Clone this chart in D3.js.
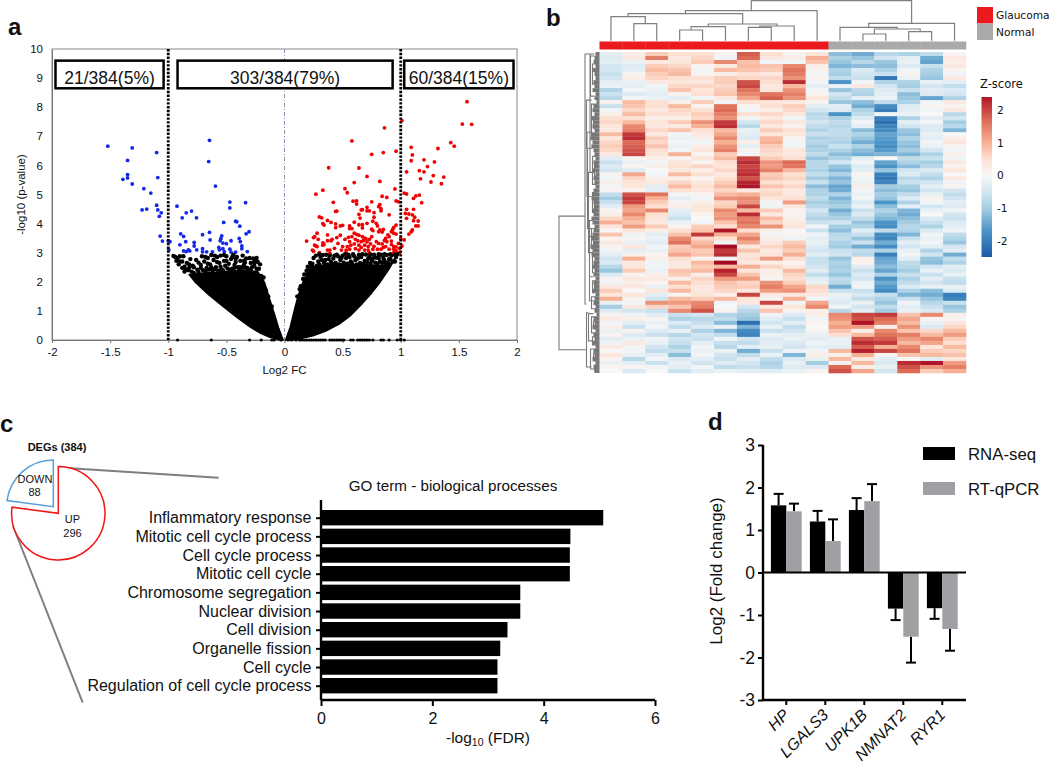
<!DOCTYPE html>
<html><head><meta charset="utf-8">
<script src="https://cdn.jsdelivr.net/npm/d3@7/dist/d3.min.js"></script>
<style>html,body{margin:0;padding:0;background:#fff;overflow:hidden}svg{display:block}text{font-family:"Liberation Sans",Arial,sans-serif;fill:#111}</style>
</head><body><svg id="c" width="1050" height="764"></svg>
<script>
// ---------- panel a: volcano data [log2FC, -log10 p]
const blueGenes=[[-1.52,6.66],[-1.31,6.6],[-1.35,6.17],[-1.35,5.68],[-1.35,5.57],[-1.39,5.52],[-1.31,5.36],[-1.21,5.2],[-1.15,5.05],[-1.1,6.44],[-1.09,5.58],[-1.225,4.47],[-1.185,4.5],[-1.1,4.63],[-1.09,4.47],[-1.06,4.37],[-1.077,4.25],[-1.07,3.57],[-1.05,3.4],[-1,3.4],[-0.985,3.38],[-0.995,3.1],[-0.925,4.6],[-0.845,4.37],[-0.8,4.43],[-0.88,4.2],[-0.757,4.2],[-0.893,3.65],[-0.868,3.56],[-0.85,3.38],[-0.9,3.27],[-0.868,3.06],[-0.827,3.1],[-0.845,3.04],[-0.815,3.06],[-0.777,3.35],[-0.777,3.23],[-0.755,3.1],[-0.705,3.62],[-0.645,3.7],[-0.64,3.44],[-0.705,3.14],[-0.705,3.03],[-0.67,3.03],[-0.62,3.03],[-0.645,6.86],[-0.652,6.13],[-0.594,5.29],[-0.47,4.74],[-0.47,4.54],[-0.335,4.72],[-0.523,4.04],[-0.42,4.08],[-0.41,4.06],[-0.385,3.91],[-0.305,3.72],[-0.33,3.65],[-0.54,3.58],[-0.547,3.49],[-0.553,3.41],[-0.53,3.33],[-0.5,3.31],[-0.46,3.41],[-0.39,3.49],[-0.38,3.38],[-0.367,3.23],[-0.367,3.14],[-0.32,3.04],[-0.565,3.18],[-0.53,3.14],[-0.56,3.1],[-0.518,3.04],[-0.47,3.12],[-0.46,3.02],[-0.42,3.02]];
const redGenes=[[1.57,8.19],[1.53,7.42],[1.61,7.41],[1.01,7.54],[.86,7.29],[.58,6.84],[1.43,6.78],[1.46,6.66],[1.32,6.58],[1.09,6.62],[.96,6.49],[.85,6.44],[.75,6.38],[1.1,6.36],[1.09,6.16],[1.2,6.19],[1.29,6.12],[1.23,5.96],[.38,5.92],[.64,5.91],[1.05,5.78],[1.16,5.82],[1.2,5.78],[1.28,5.65],[1.37,5.6],[.71,5.62],[1.17,5.54],[.82,5.45],[.6,5.41],[1.26,5.43],[1.35,5.37],[.52,5.2],[.54,5.06],[.95,5.19],[.33,5.15],[.27,5.01],[1.03,5.05],[1.05,5.02],[.84,4.94],[.88,4.9],[1.13,4.95],[1.16,4.98],[1.11,4.87],[.42,4.73],[.59,4.77],[.62,4.78],[.62,4.67],[.75,4.75],[.96,4.78],[.98,4.75],[1.18,4.72],[.81,4.58],[.82,4.65],[.71,4.56],[.83,4.51],[.66,4.47],[.67,4.48],[.71,4.44],[.73,4.44],[1.05,4.49],[1.11,4.49],[.44,4.42],[.45,4.43],[.64,4.32],[.77,4.38],[.83,4.44],[.9,4.3],[1.04,4.35],[1.07,4.33],[1.1,4.3],[.3,4.23],[.32,4.2],[.65,4.19],[.77,4.22],[1.05,4.18],[1.12,4.22],[.37,4.11],[.4,4.04],[.33,4],[.34,3.95],[.44,3.99],[.6,4.05],[.64,3.96],[.67,3.96],[.71,4.01],[.76,4.08],[.79,4.01],[1.11,4.1],[1.15,4.09],[1.13,3.92],[1.15,3.92],[.48,3.92],[.5,3.94],[.44,3.86],[.56,3.92],[.56,3.83],[.58,3.83],[.67,3.85],[.75,3.81],[.8,3.92],[.82,3.78],[.85,3.8],[.96,3.95],[.94,3.87],[.93,3.8],[.92,3.72],[1.1,3.78],[1.09,3.72],[1.07,3.64],[.28,3.67],[.26,3.55],[.25,3.52],[.37,3.61],[.19,3.4],[.29,3.46],[.45,3.52],[.48,3.6],[.55,3.53],[.6,3.67],[.62,3.63],[.64,3.6],[.67,3.55],[.7,3.48],[.73,3.46],[.76,3.76],[.81,3.72],[.84,3.71],[.89,3.61],[.87,3.49],[.9,3.55],[.94,3.67],[.96,3.64],[1.03,3.44],[1,3.49],[.41,3.46],[.52,3.46],[.33,3.34],[.37,3.41],[.4,3.41],[.46,3.32],[.56,3.38],[.61,3.46],[.63,3.41],[.66,3.38],[.71,3.37],[.74,3.3],[.79,3.38],[.81,3.32],[.84,3.3],[.88,3.38],[.26,3.26],[.27,3.23],[.34,3.29],[.5,3.21],[.54,3.21],[.57,3.26],[.64,3.26],[.69,3.26],[.72,3.21],[.94,3.21],[.98,3.32],[1.01,3.23],[.24,3.09],[.25,3.05],[.28,3.21],[.37,3.09],[.39,3.09],[.33,3.26],[.43,3.15],[.49,3.09],[.53,3.09],[.56,3.12],[.61,3.14],[.64,3.09],[.69,3.09],[.72,3.09],[.76,3.12],[.8,3.12],[.83,3.12],[.87,3.21],[.9,3.12],[.94,3.12],[.96,3.07],[.99,3.15],[.3,3],[.39,2.98],[.53,3],[.73,3],[.94,3],[.99,3],[.58,3.55],[.69,3.5],[.75,3.55],[.86,3.42],[.92,3.4],[.68,3.42],[.6,3.3],[.66,3.18],[.77,3.22],[.85,3.18],[.92,3.28],[.96,3.2]];
// upper, scattered part of the non-significant cloud
const greyGenesRight=[[.27,2.9],[.29,2.7],[.31,2.85],[.22,2.45],[.24,2.62],[.26,2.4],[.2,2.25],[.18,2.1],[.33,2.92],[.35,2.75],[.37,2.6],[.39,2.9],[.41,2.62],[.42,2.8],[.44,2.65],[.45,2.93],[.47,2.6],[.48,2.75],[.5,2.9],[.51,2.66],[.53,2.82],[.54,2.62],[.55,2.93],[.57,2.7],[.58,2.65],[.6,2.88],[.61,2.75],[.62,2.6],[.64,2.93],[.65,2.65],[.66,2.85],[.68,2.62],[.69,2.72],[.7,2.94],[.71,2.68],[.73,2.85],[.74,2.63],[.75,2.72],[.77,2.93],[.78,2.66],[.79,2.83],[.8,2.62],[.82,2.7],[.83,2.93],[.84,2.65],[.85,2.82],[.87,2.65],[.88,2.92],[.89,2.66],[.9,2.78],[.92,2.9],[.93,2.7],[.95,2.93],[.96,2.85],[.97,2.95],[.34,2.65],[.3,2.6],[.46,2.88],[.52,2.95],[.59,2.95],[.67,2.95],[.74,2.94],[.81,2.95],[.86,2.95],[.91,2.95],[.36,2.93],[.4,2.68],[.28,2.55],[.25,2.5],[.23,2.55],[.21,2.42],[.19,2.38],[.16,2.1],[.14,1.85],[.95,2.7],[.91,2.78],[.32,2.75],[.38,2.78],[.43,2.9],[.49,2.82],[.56,2.85],[.63,2.8],[.72,2.8],[.76,2.8],[.81,2.82],[.86,2.74],[.3,2.95],[.25,2.82],[.22,2.65],[.2,2.52],[.17,2.25],[.13,1.75],[.11,1.5]];
const greyGenesLeft=[[-.955,2.89],[-.94,2.85],[-.92,2.82],[-.9,2.88],[-.88,2.7],[-.87,2.88],[-.86,2.52],[-.84,2.65],[-.83,2.4],[-.81,2.78],[-.8,2.35],[-.79,2.55],[-.78,2.3],[-.76,2.75],[-.75,2.42],[-.74,2.34],[-.72,2.58],[-.71,2.88],[-.7,2.4],[-.69,2.7],[-.68,2.36],[-.67,2.48],[-.66,2.82],[-.65,2.42],[-.64,2.6],[-.63,2.92],[-.62,2.38],[-.61,2.75],[-.6,2.44],[-.59,2.5],[-.58,2.85],[-.57,2.38],[-.56,2.65],[-.55,2.9],[-.54,2.42],[-.53,2.4],[-.52,2.72],[-.51,2.55],[-.5,2.88],[-.49,2.46],[-.48,2.62],[-.47,2.42],[-.46,2.78],[-.45,2.45],[-.44,2.93],[-.43,2.48],[-.42,2.68],[-.41,2.85],[-.4,2.5],[-.39,2.45],[-.38,2.72],[-.37,2.48],[-.36,2.9],[-.35,2.58],[-.34,2.5],[-.33,2.8],[-.32,2.48],[-.31,2.42],[-.3,2.82],[-.29,2.65],[-.28,2.5],[-.27,2.8],[-.26,2.55],[-.25,2.78],[-.24,2.45],[-.23,2.68],[-.22,2.45],[-.21,2.6],[-.2,2.2],[-.19,2],[-.18,2.15],[-.45,2.85],[-.52,2.92],[-.6,2.9],[-.68,2.85],[-.35,2.72],[-.43,2.58],[-.55,2.52],[-.63,2.5],[-.72,2.48],[-.78,2.5],[-.82,2.48],[-.38,2.5],[-.29,2.4],[-.86,2.35],[-.85,2.42],[-.9,2.7],[-.91,2.6],[-.88,2.48],[-.93,2.72],[-.82,2.6],[-.74,2.66],[-.66,2.62],[-.58,2.68],[-.5,2.72],[-.42,2.8],[-.34,2.66],[-.26,2.68],[-.24,2.82],[-.16,1.7],[-.14,1.5],[-.11,1.15]];
// solid body of the cloud: outline
const cloudRight=[[.01,0],[.05,.45],[.09,1.1],[.12,1.55],[.16,2],[.22,2.4],[.3,2.55],[.5,2.62],[.7,2.58],[.85,2.56],[.92,2.65],[.97,2.92],[.9,2.45],[.815,1.95],[.75,1.62],[.67,1.26],[.57,.85],[.47,.55],[.35,.3],[.245,.15],[.15,.06],[.08,0]];
const cloudLeft=[[-.012,0],[-.05,.4],[-.08,.8],[-.125,1.37],[-.17,1.95],[-.23,2.35],[-.35,2.4],[-.5,2.35],[-.7,2.3],[-.82,2.25],[-.77,2],[-.65,1.55],[-.526,1.15],[-.4,.75],[-.3,.46],[-.2,.22],[-.13,.1],[-.04,0]];
const zeroGenes=[-.92,-.63,-.3,-.2,-.11,-.09,-.03,.03,.06,.1,.13,.15,.17,.19,.21,.23,.25,.27,.29,.31,.33,.35,.39,.41,.43,.45,.47,.49,.51,.57,.59,.63,.65,.67,.69,.71,.73,.76,.83,.85,.9,.97,1,1.03];
const fcTicks=[-2,-1.5,-1,-0.5,0,0.5,1,1.5,2];
const pTicks=[0,1,2,3,4,5,6,7,8,9,10];
const fcThresholds=[-1,1];
const boxLabels=["21/384(5%)","303/384(79%)","60/384(15%)"];
const boxSpans=[[-1.97,-1.04],[-0.92,0.93],[1.03,1.97]];

// ---------- panel b: heatmap (z-score x 10, rows top to bottom, 16 samples)
const zRows=[
[-3,2,7,5,5,1,18,5,1,4,-12,-14,-8,-9,-7,1],
[-4,3,15,3,6,-1,17,3,2,10,-9,-11,-5,-3,-14,3],
[-3,-2,3,4,7,14,8,-1,-1,8,-11,-8,-11,-2,-15,2],
[-5,-4,7,6,1,3,9,8,14,2,-13,-12,-12,-4,-6,3],
[-5,-3,9,8,-1,9,8,7,16,1,-9,-4,-9,-1,-9,1],
[-6,1,7,9,1,2,5,3,15,-1,-10,-5,-6,1,-10,-1],
[-5,2,6,5,5,7,6,6,13,1,-7,-6,-21,-2,-11,3],
[-3,-2,3,4,3,7,19,5,22,-1,-17,-1,-9,-9,-2,-3],
[-2,-3,-1,6,6,6,20,3,9,-3,-2,3,-5,-10,-5,-7],
[-9,-1,-2,8,4,7,16,4,13,-1,-11,-8,-4,-6,-3,-4],
[-6,-4,-3,1,5,8,14,16,15,1,-5,-9,-3,-12,-4,-5],
[-8,-1,-2,-3,-1,3,11,18,13,4,-7,-3,-2,-11,-15,-9],
[1,9,5,2,7,-1,5,4,3,1,-11,-12,-7,-9,-1,3],
[-6,8,5,9,1,16,1,5,7,-3,-3,-14,-18,-4,1,1],
[-1,6,3,6,5,17,-1,2,6,-5,-4,-9,-20,-3,-1,3],
[2,9,5,5,7,15,5,6,4,-8,-17,-7,-1,-2,0,-8],
[5,5,2,2,6,13,-1,3,-1,-7,-9,-4,-20,-9,-3,-5],
[6,9,4,7,13,21,-5,6,3,-5,-7,-1,-22,-3,-1,-10],
[4,14,3,3,10,22,-8,3,1,-7,-8,-3,-19,-5,-4,-8],
[3,15,6,8,5,9,-2,7,5,-9,-7,-12,-18,-11,-4,-13],
[9,21,3,-1,3,11,-3,4,4,-6,-7,-9,-15,-12,-2,0],
[4,22,7,-2,2,14,-4,9,1,-9,-8,-11,-16,-9,-3,2],
[6,17,6,-1,-1,10,2,10,-1,-8,-9,-14,-17,-11,-1,4],
[7,18,8,-2,2,13,-3,7,-1,-10,-6,-9,-18,-12,-2,1],
[6,19,5,-1,4,15,1,6,4,-9,-9,-12,-16,-10,-5,-1],
[3,20,4,10,1,7,-1,5,3,-7,-12,-14,-13,-13,-9,2],
[-3,1,2,1,4,9,20,7,5,-11,-9,-3,0,-7,-6,-1],
[-6,-2,-1,4,1,5,22,13,17,-8,-5,-1,-15,-9,-10,3],
[-4,1,2,5,6,4,20,12,16,-8,-11,-4,-17,-12,-8,1],
[-5,-4,0,3,2,6,21,15,9,-9,-13,-3,-11,-5,-4,4],
[1,11,-1,9,5,3,22,7,5,-7,-9,1,-20,-4,-7,0],
[-1,6,2,2,1,5,19,8,6,-10,-13,-1,-21,-8,-9,3],
[2,4,3,6,3,7,23,5,4,-6,-11,-2,-19,-6,-5,-1],
[-1,4,-3,9,5,9,24,8,6,-12,-15,2,-10,-10,-3,1],
[1,1,-3,5,4,6,3,5,3,-9,-14,-1,-12,-11,-5,-5],
[-7,19,16,-1,1,9,10,6,3,-9,-9,-2,-10,-7,-2,-7],
[-10,21,10,-3,-1,13,14,4,5,-7,-13,-1,-11,-4,1,-5],
[-6,20,7,1,2,6,13,-1,12,-10,-11,-4,-17,-9,-1,-3],
[-3,12,5,2,4,7,20,-1,3,-8,-9,-2,-12,-3,-5,-4],
[1,11,14,-3,4,14,9,7,1,-5,-14,-6,-9,-13,-2,-1],
[2,14,5,-4,1,12,22,3,1,-7,-11,-4,-11,-14,0,-5],
[6,10,4,-6,0,13,15,9,2,-9,-9,-7,-13,-12,-4,-6],
[10,8,3,-2,-1,8,16,6,3,-6,-5,-11,-17,-10,-6,-4],
[4,12,7,1,7,5,14,13,4,-1,-10,-9,-18,-8,-9,-3],
[0,4,2,5,8,24,5,2,0,-6,-12,-3,-7,-9,-4,-1],
[8,-1,-3,8,21,10,11,-1,1,-1,-8,-6,-18,-13,-1,-7],
[1,1,-2,14,6,5,15,2,-1,-3,-7,-11,-19,-6,-2,-9],
[3,-2,-3,16,9,-1,11,3,7,-2,-9,-6,-14,-3,-1,-11],
[1,4,-1,7,11,25,3,6,9,-4,-10,-14,-18,-5,-3,-5],
[-1,-3,-2,8,7,21,8,3,7,-5,-6,-7,-9,-2,-9,-3],
[-3,2,1,11,8,22,4,4,10,-3,-5,-8,-20,-1,-5,-14],
[-5,10,2,5,1,-1,5,12,5,-6,-11,2,-15,-3,-11,-7],
[-4,3,-1,3,9,25,3,2,1,-6,-9,1,-14,-7,-12,-9],
[-8,4,-1,3,7,9,10,6,3,-5,-10,-3,-12,-8,-5,-3],
[-11,7,-2,8,9,23,4,2,9,-3,-9,-6,-15,-10,-2,-4],
[-4,1,2,7,2,20,8,2,6,-7,-11,-4,-9,-6,-6,-2],
[1,3,3,2,6,12,12,1,5,-3,-7,-5,-17,-9,-3,-6],
[-1,2,1,9,5,8,6,13,7,-2,-8,-2,-14,-7,-5,-7],
[3,3,-2,5,3,7,7,15,11,6,-14,-1,-16,-4,-2,-2],
[7,0,4,9,3,6,3,12,13,5,-6,-6,-18,-9,-12,-4],
[4,4,-3,1,4,2,20,3,3,3,-2,-4,-6,-13,-14,-20],
[10,1,-5,9,7,9,4,1,10,-1,-3,-7,-9,-6,-11,-19],
[-2,-1,13,12,14,-1,3,20,-1,11,-4,-2,-11,-1,-8,-6],
[-10,3,6,8,15,0,-5,3,4,14,-1,-5,-7,-3,-6,-11],
[-4,-5,-6,14,19,1,-8,8,1,2,-8,-3,-10,-2,-4,-9],
[1,-1,-3,-6,-5,-9,-10,-1,-4,2,14,20,21,8,14,2],
[3,2,1,-9,-8,-7,-11,-3,-6,-1,13,19,17,11,1,1],
[-1,-3,-2,-4,-6,-12,-22,-5,-3,1,10,24,15,9,-2,3],
[2,-6,-1,-7,-4,-2,-13,-2,-7,0,12,12,2,13,-4,6],
[-2,1,-4,-2,-9,-13,-18,-6,-5,1,8,2,14,8,6,9],
[1,-4,-6,-8,-5,-7,-19,-2,-3,-2,5,9,16,15,9,12],
[-3,-2,-1,-5,-6,-1,-5,-4,-2,-3,-2,19,18,12,14,7],
[-1,3,-2,-6,-3,-6,-7,-3,-4,-1,-2,22,21,9,11,5],
[3,-1,-5,-9,-1,-8,-3,-2,-5,-3,-3,18,10,14,4,9],
[0,-1,-7,-6,-2,-2,-14,-6,-1,-1,9,23,20,16,7,6],
[4,-2,-3,-12,-1,-5,-7,-2,-13,2,2,10,1,8,9,8],
[1,-8,-1,-4,-3,-6,-3,-7,-4,-2,9,3,-3,0,-3,4],
[-2,-3,-6,-2,-5,-4,-5,-9,-2,-10,1,9,-4,22,24,12],
[1,1,-1,-3,-1,-7,-6,-8,-4,-4,17,2,-2,19,13,15],
[0,-4,0,-6,-3,-2,-3,-3,-2,1,19,11,-5,17,7,10]];
const sampleGroups=["Glaucoma","Glaucoma","Glaucoma","Glaucoma","Glaucoma","Glaucoma","Glaucoma","Glaucoma","Glaucoma","Glaucoma","Normal","Normal","Normal","Normal","Normal","Normal"];
const groupNames=["Glaucoma","Normal"];
const zTicks=[2,1,0,-1,-2];
// sample dendrogram: linkage [left node, right node, height]; nodes 0-15 are leaves
const sampleLinks=[[1,2,17],[0,16,24],[3,4,10.7],[18,5,14],[6,7,13.3],[20,8,14.7],[19,21,16.7],[17,22,27],[23,9,30],[11,12,6.7],[13,14,9],[25,26,11.7],[10,27,13.3],[28,15,17.3],[24,29,40]];
// gene dendrogram brackets: [row A, row B, stem height, child height at A, child height at B]
const geneBrackets=[[40.9,74.2,40.5,14.5,13],[0.5,62.8,14.5,9.5,13],[0.5,30,9.5,5,5],[12,24,13,8,8],[20,36,12.5,8,8],[24,44,12,7,7],[30,50,11,6,6],[42,56,10,6,6],[46,62,10,6,6],[1,11,9,5,5],[3,8,7,3,3],[13,21,8,3,3],[16,19,6,3,3],[26,33,7,3,3],[28,31,5,2,2],[35,40,7,3,3],[37,39,5,2,2],[44,49,8,3,3],[46,48,6,2,2],[51,55,7,3,3],[53,54,5,2,2],[57,60,7,3,3],[58,59,5,2,2],[61,64,8,3,3],[62,63,5,2,2],[65,78.5,13,11,8],[65.2,72,11,6,6],[66,70,8,3,3],[67,69,6,2,2],[71,73,7,3,3],[74,79,9,4,4],[75,77,6,2,2],[78,79.5,5,2,2]];
const geneLeafDepth=[4,5,6,4,7,5,4,6,5,7,4,5,3,6,7,5,8,6,7,5,8,9,7,8,6,5,4,6,5,7,4,6,5,4,6,7,8,6,5,7,6,8,7,5,6,7,8,6,9,7,8,5,6,7,5,6,4,6,5,7,4,5,6,4,5,3,6,5,7,4,6,5,7,4,6,5,7,4,6,5];

// ---------- panel c
const degNames=["UP","DOWN"];
const degCounts=[296,88];
const goTerms=["Inflammatory response","Mitotic cell cycle process","Cell cycle process","Mitotic cell cycle","Chromosome segregation","Nuclear division","Cell division","Organelle fission","Cell cycle","Regulation of cell cycle process"];
const goFdr=[5.07,4.48,4.47,4.47,3.58,3.58,3.35,3.22,3.17,3.17];
const fdrTicks=[0,2,4,6];

// ---------- panel d
const qGenes=["HP","LGALS3","UPK1B","NMNAT2","RYR1"];
const rnaSeq=[1.58,1.2,1.47,-0.85,-0.84];
const rtqPCR=[1.44,0.74,1.68,-1.51,-1.33];
const rnaSeqErr=[0.27,0.25,0.28,0.27,0.25];
const rtqPCRErr=[0.18,0.51,0.4,0.61,0.51];
const foldTicks=[-3,-2,-1,0,1,2,3];

const svg=d3.select("#c");
const F='"Liberation Sans",Arial,sans-serif', DJ='"DejaVu Sans",sans-serif';
function label(g,x,y,t,o={}){return g.append("text").attr("x",x).attr("y",y).text(t)
  .attr("text-anchor",o.anchor||"middle").attr("font-size",o.size||11).attr("font-weight",o.weight||null)
  .attr("font-style",o.style||null).style("font-family",o.family||F).attr("transform",o.rot!=null?`rotate(${o.rot},${x},${y})`:null);}
[["a",8,35],["b",546,26],["c",0,432],["d",708,430]].forEach(d=>label(svg,d[1],d[2],d[0],{anchor:"start",size:24,weight:"bold"}));

// ===== a =====
(function(){
 const x=d3.scaleLinear().domain([-2,2]).range([52,517]);
 const y=d3.scaleLinear().domain([0,10]).range([340,49]);
 const g=svg.append("g");
 g.append("rect").attr("x",x(-2)).attr("y",y(10)).attr("width",x(2)-x(-2)).attr("height",y(0)-y(10)).attr("fill","none").attr("stroke","#8a8a8a");
 g.append("line").attr("x1",x(0)).attr("x2",x(0)).attr("y1",y(10)).attr("y2",y(0)).attr("stroke","#8d94ad").attr("stroke-width",1).attr("stroke-dasharray","4 2 1 2");
 const ax=g.append("g").attr("transform",`translate(0,${y(0)})`).call(d3.axisBottom(x).tickValues(fcTicks).tickSize(3).tickPadding(5).tickFormat(d=>String(d)));
 ax.selectAll("text").attr("font-size",11.5).attr("fill","#222");ax.selectAll("line,path").attr("stroke","#777");
 const ay=g.append("g").attr("transform",`translate(${x(-2)},0)`).call(d3.axisLeft(y).tickValues(pTicks).tickSize(0).tickPadding(9).tickFormat(d=>String(d)));
 ay.selectAll("text").attr("font-size",11.5).attr("fill","#222");ay.selectAll("path").attr("stroke","#777");
 const line=d3.line().x(d=>x(d[0])).y(d=>y(d[1]));
 [cloudLeft,cloudRight].forEach(c=>g.append("path").attr("d",line(c)+"Z").attr("fill","#000").attr("stroke","#000").attr("stroke-width",1.6).attr("stroke-linejoin","round"));
 const dots=(data,col,r)=>g.append("g").selectAll("circle").data(data).join("circle").attr("cx",d=>x(d[0])).attr("cy",d=>y(d[1])).attr("r",r).attr("fill",col);
 dots(zeroGenes.map(v=>[v,0]),"#000",1.6);
 dots(redGenes,"#f00000",1.9);dots(blueGenes,"#1428e6",1.9);
 dots(greyGenesRight,"#000",2.2);dots(greyGenesLeft,"#000",2.2);
 fcThresholds.forEach(t=>g.append("line").attr("x1",x(t)).attr("x2",x(t)).attr("y1",y(10)).attr("y2",y(0)).attr("stroke","#000").attr("stroke-width",2.8).attr("stroke-dasharray","2.4 1.4"));
 boxLabels.forEach((t,i)=>{const a=x(boxSpans[i][0]),b=x(boxSpans[i][1]);
  g.append("rect").attr("x",a).attr("y",y(9.6)).attr("width",b-a).attr("height",y(8.65)-y(9.6)).attr("fill","#fff").attr("stroke","#000").attr("stroke-width",2.5);
  label(g,(a+b)/2,y(8.8),t,{size:17.5});});
 label(g,x(0),374,"Log2 FC",{size:11.5});
 label(g,25,y(5),"-log10 (p-value)",{size:11.5,rot:-90});
})();

// ===== b =====
(function(){
 const nC=zRows[0].length,nR=zRows.length;
 const x=d3.scaleBand().domain(d3.range(nC)).range([599.5,966]);
 const y=d3.scaleBand().domain(d3.range(nR)).range([52,373]);
 const color=d3.scaleLinear().domain([-2.5,-1.7,-1,-.4,0,.5,1,1.7,2.4]).range(["#1b5ba6","#4a93c6","#a6cee3","#dbeaf3","#f7f7f7","#fde0d2","#f7b094","#dc6a54","#ae1529"]);
 const g=svg.append("g");
 zRows.forEach((row,r)=>g.append("g").selectAll("rect").data(row).join("rect")
   .attr("x",(d,c)=>x(c)).attr("y",y(r)).attr("width",x.bandwidth()+.3).attr("height",y.bandwidth()+.3).attr("fill",d=>color(d/10)));
 const groupCol=d3.scaleOrdinal(groupNames,["#ea1a1e","#a9a9a9"]);
 g.append("g").selectAll("rect").data(sampleGroups).join("rect").attr("x",(d,i)=>x(i)).attr("y",41.5).attr("width",x.bandwidth()+.3).attr("height",8).attr("fill",d=>groupCol(d));
 // sample dendrogram
 const hY=d3.scaleLinear().domain([0,40]).range([40.7,0.7]);
 const nodes=d3.range(nC).map(i=>({x:x(i)+x.bandwidth()/2,h:0}));
 let p="";
 sampleLinks.forEach(([a,b,h])=>{const A=nodes[a],B=nodes[b];
   p+=`M${A.x},${hY(A.h)}V${hY(h)}H${B.x}V${hY(B.h)}`;nodes.push({x:(A.x+B.x)/2,h});});
 g.append("path").attr("d",p).attr("fill","none").attr("stroke","#7f7f7f").attr("stroke-width",1.2);
 // gene dendrogram
 const hX=d3.scaleLinear().domain([0,40.5]).range([599.5,559]);
 const rowY=d3.scaleLinear().domain([0,nR]).range([52,373]);
 let q="";
 geneBrackets.forEach(([a,b,h,ha,hb])=>{q+=`M${hX(ha)},${rowY(a)}H${hX(h)}V${rowY(b)}H${hX(hb)}`;});
 g.append("path").attr("d",q).attr("fill","none").attr("stroke","#7a7a7a").attr("stroke-width",1.1);
 g.append("g").selectAll("line").data(geneLeafDepth).join("line").attr("x1",hX(0)).attr("x2",d=>hX(d))
   .attr("y1",(d,i)=>rowY(i+.5)).attr("y2",(d,i)=>rowY(i+.5)).attr("stroke","#777").attr("stroke-width",4);
 // legends
 groupNames.forEach((n,i)=>{g.append("rect").attr("x",977).attr("y",7+i*16.5).attr("width",16).attr("height",16.5).attr("fill",groupCol(n));
   label(g,996,15+i*16.7+4,n,{anchor:"start",size:10.6,family:DJ});});
 label(g,980,88,"Z-score",{anchor:"start",size:11.5,family:DJ});
 const zy=d3.scaleLinear().domain([2.4,-2.5]).range([97,257]);
 const gr=svg.append("defs").append("linearGradient").attr("id","zg").attr("x1",0).attr("x2",0).attr("y1",1).attr("y2",0);
 color.domain().forEach(v=>gr.append("stop").attr("offset",(v+2.5)/4.9).attr("stop-color",color(v)));
 g.append("rect").attr("x",981.5).attr("y",zy(2.4)).attr("width",10.5).attr("height",zy(-2.5)-zy(2.4)).attr("fill","url(#zg)");
 zTicks.forEach(t=>label(g,997,zy(t)+4,String(t),{anchor:"start",size:10.6,family:DJ}));
})();

// ===== c =====
(function(){
 const g=svg.append("g");
 const pie=d3.pie().sort(null).value(d=>d)(degCounts);
 const arc=d3.arc().innerRadius(0).outerRadius(46.7);
 const cl=[[58.3,513.3,"#f01414"],[53.3,506.7,"#5aa0d6"]];
 g.append("line").attr("x1",58.3).attr("y1",467.5).attr("x2",218.5).attr("y2",477.7).attr("stroke","#7f7f7f").attr("stroke-width",2);
 g.append("line").attr("x1",13).attr("y1",526).attr("x2",82.7).attr("y2",702.7).attr("stroke","#7f7f7f").attr("stroke-width",2);
 pie.forEach((s,i)=>g.append("path").attr("d",arc(s)).attr("transform",`translate(${cl[i][0]},${cl[i][1]})`).attr("fill","#fff").attr("stroke",cl[i][2]).attr("stroke-width",1.5).attr("stroke-linejoin","miter"));
 label(g,57,451,"DEGs (384)",{size:11,weight:"bold"});
 label(g,35,483,degNames[1],{size:11});label(g,34.5,496,String(degCounts[1]),{size:11});
 label(g,72.5,523,degNames[0],{size:11});label(g,72.5,537,String(degCounts[0]),{size:11});
 label(g,453,490.5,"GO term - biological processes",{size:15.2});
 const x=d3.scaleLinear().domain([0,6]).range([321,655]);
 const y=d3.scalePoint().domain(goTerms).range([517.7,685.7]);
 g.append("g").selectAll("rect").data(goTerms).join("rect").attr("x",x(0)).attr("y",d=>y(d)-7.7).attr("height",15.4)
   .attr("width",(d,i)=>x(goFdr[i])-x(0)).attr("fill","#000");
 const ax=g.append("g").attr("transform","translate(0,700)").call(d3.axisBottom(x).tickValues(fdrTicks).tickSize(6).tickPadding(7).tickFormat(d=>String(d)));
 ax.selectAll("text").attr("font-size",16).attr("fill","#111");ax.selectAll("line").attr("stroke","#000").attr("stroke-width",2);ax.select("path").attr("stroke","#000").attr("stroke-width",2.4).attr("d","M321,0H655");
 const ay=g.append("g").attr("transform","translate(321,0)").call(d3.axisLeft(y).tickSize(5).tickPadding(4.5));
 ay.selectAll("text").attr("font-size",16).attr("fill","#111");ay.selectAll("line").attr("stroke","#000").attr("stroke-width",2);ay.select("path").attr("stroke","#000").attr("stroke-width",2.4).attr("d","M0,500V700");
 const t=label(g,488,743,"-log",{size:15.5});
 t.append("tspan").text("10").attr("font-size",10.5).attr("dy",3);
 t.append("tspan").text(" (FDR)").attr("dy",-3);
})();

// ===== d =====
(function(){
 const g=svg.append("g");
 const y=d3.scaleLinear().domain([-3,3]).range([700,445]);
 const x=d3.scaleBand().domain(qGenes).range([766.8,961.8]);
 const bw=15.4;
 const grey="#a0a0a4";
 [[rnaSeq,rnaSeqErr,"#000",-bw],[rtqPCR,rtqPCRErr,grey,0]].forEach(([vals,errs,col,off])=>{
  qGenes.forEach((n,i)=>{const cx=x(n)+x.bandwidth()/2+off,v=vals[i],e=v+Math.sign(v)*errs[i],ex=cx+bw/2;
   g.append("line").attr("x1",ex).attr("x2",ex).attr("y1",y(v)).attr("y2",y(e)).attr("stroke","#000").attr("stroke-width",2);
   g.append("line").attr("x1",ex-5).attr("x2",ex+5).attr("y1",y(e)).attr("y2",y(e)).attr("stroke","#000").attr("stroke-width",2);
   g.append("rect").attr("x",cx).attr("width",bw).attr("y",y(Math.max(v,0))).attr("height",Math.abs(y(v)-y(0))).attr("fill",col);
  });});
 const ay=g.append("g").attr("transform","translate(763,0)").call(d3.axisLeft(y).tickValues(foldTicks).tickSize(5).tickPadding(3).tickFormat(d=>String(d)));
 ay.selectAll("text").attr("font-size",17.5).attr("fill","#111");ay.selectAll("line").attr("stroke","#000").attr("stroke-width",2);ay.select("path").attr("stroke","#000").attr("stroke-width",2.4).attr("d",`M0,${y(3)}V${y(-3)}`);
 g.append("line").attr("x1",763).attr("x2",966).attr("y1",y(0)).attr("y2",y(0)).attr("stroke","#000").attr("stroke-width",2.2);
 const ax=g.append("g").attr("transform",`translate(0,${y(-3)})`).call(d3.axisBottom(x).tickSize(5).tickFormat(""));
 ax.selectAll("line").attr("stroke","#000").attr("stroke-width",2);ax.select("path").attr("stroke","#000").attr("stroke-width",2.4).attr("d","M763,0H966");
 qGenes.forEach(n=>{const cx=x(n)+x.bandwidth()/2;label(g,cx+4,716,n,{anchor:"end",size:16,style:"italic",rot:-45});});
 label(g,722,571,"Log2 (Fold change)",{size:17,rot:-90});
 [["RNA-seq","#000",447],["RT-qPCR",grey,482]].forEach(([n,c,yy])=>{
  g.append("rect").attr("x",923).attr("y",yy).attr("width",32).attr("height",13).attr("fill",c);
  label(g,968,yy+12.5,n,{anchor:"start",size:16.8});});
})();
</script></body></html>
